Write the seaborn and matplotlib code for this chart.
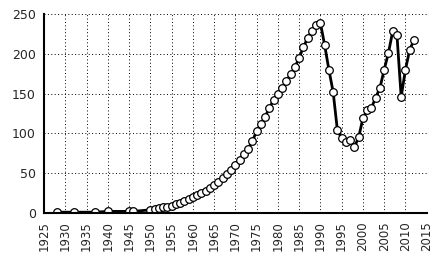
import numpy as np
import pandas as pd
import seaborn as sns
import matplotlib
matplotlib.use("Agg")
import matplotlib.pyplot as plt

# values
years = [1928, 1932, 1937, 1940, 1945, 1946,
         1950, 1951, 1952, 1953, 1954, 1955, 1956, 1957, 1958, 1959,
         1960, 1961, 1962, 1963, 1964, 1965, 1966, 1967, 1968, 1969,
         1970, 1971, 1972, 1973, 1974, 1975, 1976, 1977, 1978, 1979,
         1980, 1981, 1982, 1983, 1984, 1985, 1986, 1987, 1988, 1989,
         1990, 1991, 1992, 1993, 1994, 1995, 1996, 1997, 1998, 1999,
         2000, 2001, 2002, 2003, 2004, 2005, 2006, 2007, 2008, 2009,
         2010, 2011, 2012]
values = [1, 1, 1, 2, 2, 2,
          4, 5, 6, 7, 8, 9, 11, 13, 15, 17,
          20, 22, 25, 28, 31, 35, 39, 44, 49, 54,
          60, 67, 74, 81, 90, 103, 112, 121, 132, 142,
          150, 157, 166, 174, 183, 195, 208, 220, 229, 236,
          239, 211, 180, 152, 104, 94, 89, 92, 83, 95,
          119, 129, 132, 145, 157, 180, 201, 228, 224, 146,
          180, 205, 217]

x_ticks = list(range(1925, 2020, 5))
y_ticks = [0, 50, 100, 150, 200, 250]

df = pd.DataFrame({"year": years, "value": values})

sns.set_style("white")
plt.rcParams["font.family"] = ["DejaVu Sans"]

fig = plt.figure(figsize=(4.37, 2.59), dpi=100)
ax = fig.add_axes([0.1007, 0.1776, 0.8757, 0.7684])

sns.lineplot(data=df, x="year", y="value", ax=ax, color="black", linewidth=2,
             marker="o", markersize=5.5, markerfacecolor="white",
             markeredgecolor="black", markeredgewidth=0.9)

ax.set_xlim(1925, 2015)
ax.set_ylim(0, 250)
ax.set_xticks(x_ticks)
ax.set_yticks(y_ticks)
ax.set_xticklabels([str(t) for t in x_ticks], rotation=90, fontsize=8.5)
ax.set_yticklabels([str(t) for t in y_ticks], fontsize=9)
ax.grid(True, color="black", linestyle=(0, (1, 2.5)), linewidth=0.7)
ax.set_axisbelow(True)
ax.tick_params(axis="both", direction="out", length=4, width=1.2, color="black", pad=2)
ax.set_xlabel("")
ax.set_ylabel("")
for side in ["top", "right"]:
    ax.spines[side].set_visible(False)
for side in ["left", "bottom"]:
    ax.spines[side].set_color("black")
    ax.spines[side].set_linewidth(1.5)

fig.savefig("out.png", dpi=100)
